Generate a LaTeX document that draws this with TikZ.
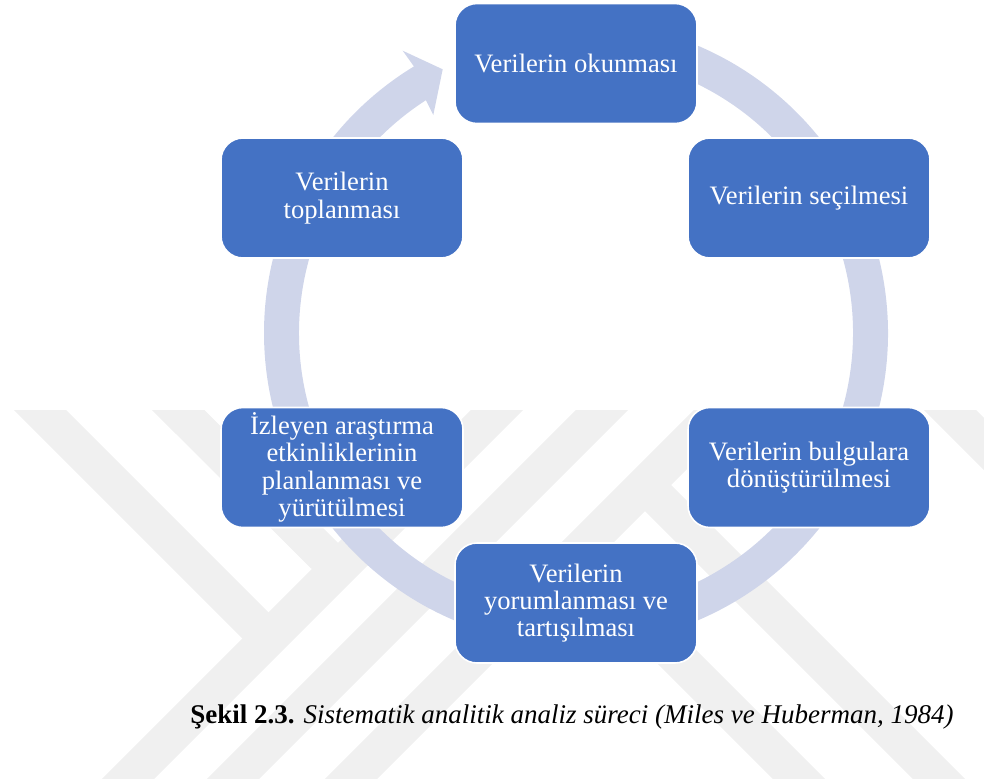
\documentclass[tikz,border=0pt]{standalone}
\usepackage{fontspec}
\setmainfont{Liberation Serif}
\usetikzlibrary{calc}
\definecolor{boxblue}{RGB}{68,114,196}
\definecolor{ringblue}{RGB}{207,213,234}
\definecolor{markgray}{RGB}{240,240,240}
\begin{document}
\begin{tikzpicture}[x=0.5pt,y=-0.5pt,
  stage/.style={draw=white, line width=0.8pt, fill=boxblue, rounded corners=11pt,
    minimum width=121pt, minimum height=60pt, inner sep=1pt, text=white,
    align=center, font=\fontsize{13.3}{13.7}\selectfont},
  band/.style={draw=markgray, line width=18.5pt, line join=miter}]
\useasboundingbox (0,0) rectangle (984,783);

% faint background stripes
\begin{scope}
  \clip (0,410) rectangle (984,778);
  % long rising diagonals
  \draw[band] (517,390) -- (107,800);
  \draw[band] (622,390) -- (212,800);
  \draw[band] (740,390) -- (330,800);
  % short falling arms joined to the first diagonal
  \draw[band] (20,390) -- (268,638);
  \draw[band] (158,390) -- (338,569);
  % falling diagonals on the right
  \draw[band] (645,485) -- (1000,840);
  \draw[band] (565,545) -- (840,820);
  \draw[band] (930,390) -- (1010,470);
\end{scope}

% circular arrow behind the stages
\coordinate (c) at (576,333);
\fill[ringblue] ($(c)+(-95:312)$) arc[start angle=-95, end angle=238.7, radius=312]
  -- (402.7,50.7) -- (442.7,69.3) -- (433.3,115)
  -- ($(c)+(237.2:277)$) arc[start angle=237.2, end angle=-95, radius=277] -- cycle;

% stages of the cycle
\node[stage] (read)   at (576,63.5)  {Verilerin okunması};
\node[stage] (select) at (809,198)   {Verilerin seçilmesi};
\node[stage] (find)   at (809,467.5) {Verilerin bulgulara\\dönüştürülmesi};
\node[stage] (interp) at (576,603)   {Verilerin\\yorumlanması ve\\tartışılması};
\node[stage] (plan)   at (342,467.5) {İzleyen araştırma\\etkinliklerinin\\planlanması ve\\yürütülmesi};
\node[stage] (gather) at (342,198)   {Verilerin\\toplanması};

% caption
\node[anchor=base west, inner sep=0pt, font=\fontsize{13.5}{15}\selectfont] (cap) at (190,723)
  {\textbf{Şekil 2.3.} \textit{Sistematik analitik analiz süreci (Miles ve Huberman, 1984)}};
\end{tikzpicture}
\end{document}
